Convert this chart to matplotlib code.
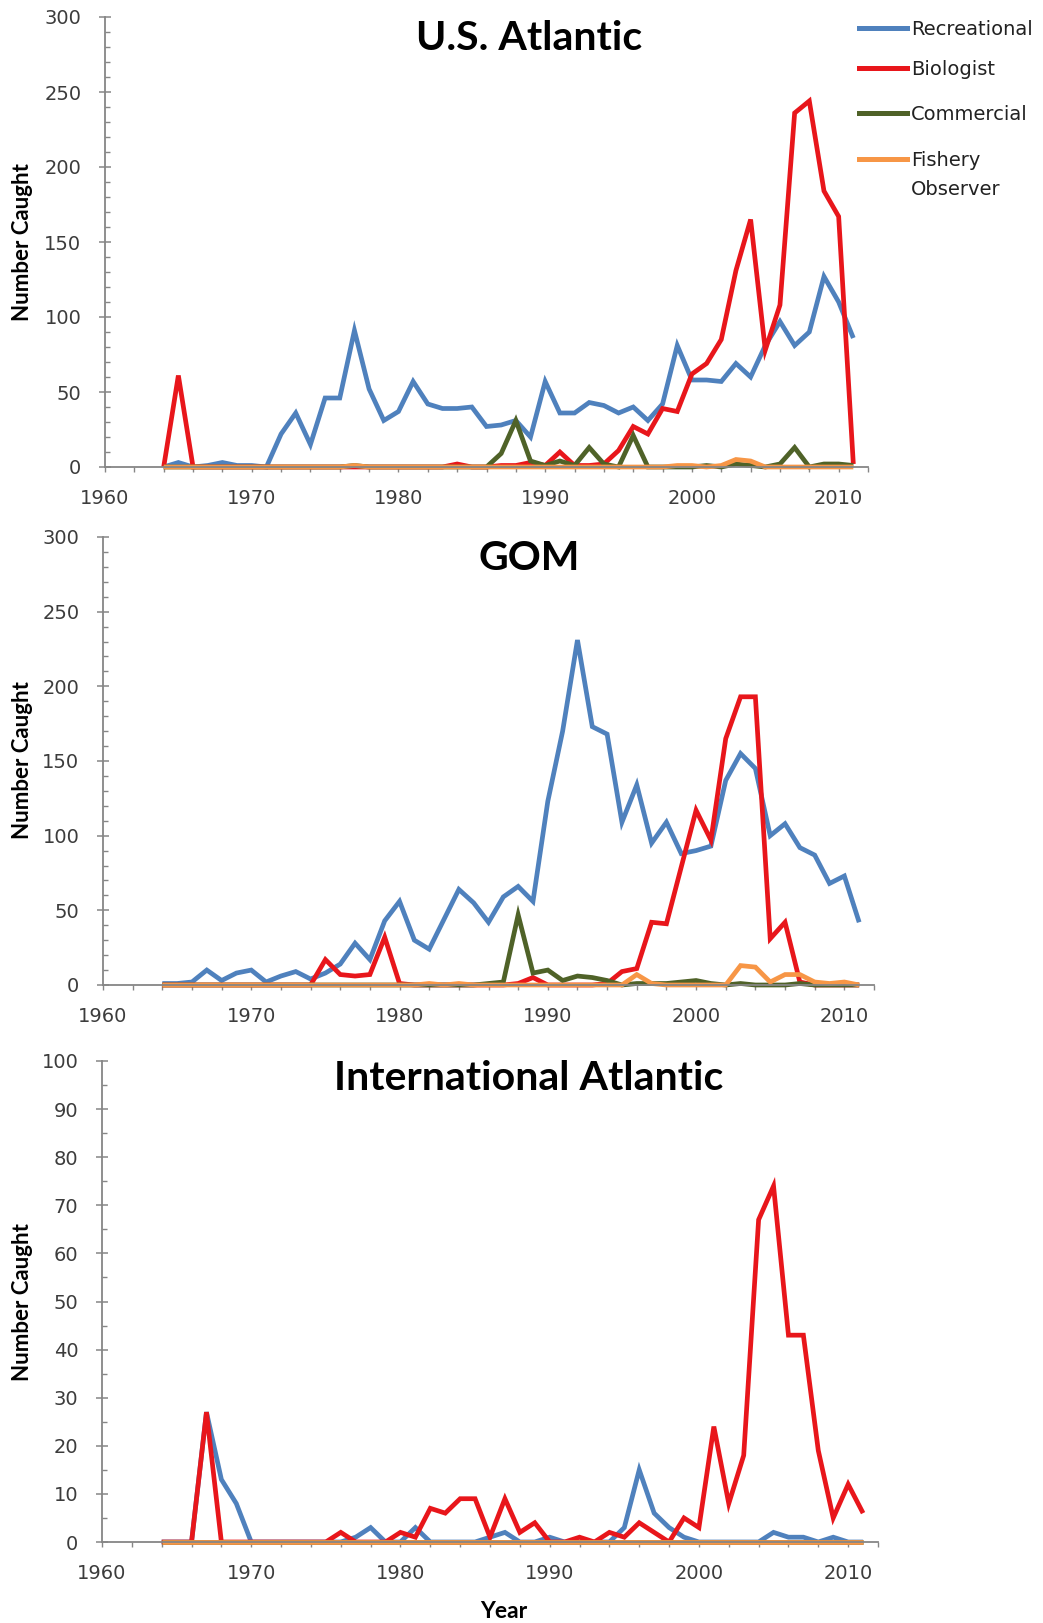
import matplotlib
matplotlib.use("Agg")
import matplotlib.pyplot as plt
from matplotlib.lines import Line2D
from matplotlib.ticker import MultipleLocator

W, H = 1043, 1623
DPI = 100

years = list(range(1964, 2012))

# ---- U.S. Atlantic ----
us_rec = [0, 3, 0, 1, 3, 1, 1, 0, 22, 36, 15, 46, 46, 91, 52, 31, 37, 57, 42, 39,
          39, 40, 27, 28, 31, 20, 57, 36, 36, 43, 41, 36, 40, 31, 42, 81, 58, 58,
          57, 69, 60, 81, 97, 81, 90, 127, 110, 86]
us_bio = [0, 61, 0, 0, 0, 0, 0, 0, 0, 0, 0, 0, 0, 0, 0, 0, 0, 0, 0, 0,
          2, 0, 0, 1, 1, 3, 1, 10, 1, 1, 2, 11, 27, 22, 39, 37, 62, 69,
          85, 131, 165, 78, 108, 236, 244, 184, 167, 2]
us_com = [0, 0, 0, 0, 0, 0, 0, 0, 0, 0, 0, 0, 0, 1, 0, 0, 0, 0, 0, 0,
          0, 0, 0, 9, 31, 4, 1, 4, 1, 13, 2, 0, 21, 0, 0, 0, 0, 1,
          0, 2, 1, 0, 2, 13, 0, 2, 2, 1]
us_obs = [0, 0, 0, 0, 0, 0, 0, 0, 0, 0, 0, 0, 0, 1, 0, 0, 0, 0, 0, 0,
          0, 0, 0, 0, 0, 0, 0, 0, 0, 0, 0, 0, 0, 0, 0, 1, 1, 0,
          1, 5, 4, 0, 0, 0, 0, 0, 0, 0]

# ---- GOM ----
gom_rec = [1, 1, 2, 10, 3, 8, 10, 2, 6, 9, 4, 8, 14, 28, 17, 43, 56, 30, 24, 44,
           64, 55, 42, 59, 66, 56, 123, 170, 231, 173, 168, 109, 134, 95, 109, 88,
           90, 93, 137, 155, 145, 100, 108, 92, 87, 68, 73, 42]
gom_bio = [0, 0, 0, 0, 0, 0, 0, 0, 0, 0, 0, 17, 7, 6, 7, 32, 1, 0, 0, 0,
           0, 0, 0, 0, 1, 5, 0, 0, 0, 0, 1, 9, 11, 42, 41, 79, 117, 97,
           165, 193, 193, 31, 42, 2, 0, 0, 0, 0]
gom_com = [0, 0, 0, 0, 0, 0, 0, 0, 0, 0, 0, 0, 0, 0, 0, 0, 0, 0, 0, 0,
           0, 0, 1, 2, 47, 8, 10, 3, 6, 5, 3, 0, 1, 1, 1, 2, 3, 1,
           0, 1, 0, 0, 0, 1, 0, 0, 0, 0]
gom_obs = [0, 0, 0, 0, 0, 0, 0, 0, 0, 0, 0, 0, 0, 0, 0, 0, 0, 0, 1, 0,
           1, 0, 0, 0, 0, 0, 0, 0, 0, 0, 0, 0, 7, 1, 0, 0, 0, 0,
           0, 13, 12, 2, 7, 7, 2, 1, 2, 0]

# ---- International Atlantic ----
int_rec = [0, 0, 0, 27, 13, 8, 0, 0, 0, 0, 0, 0, 0, 1, 3, 0, 0, 3, 0, 0,
           0, 0, 1, 2, 0, 0, 1, 0, 0, 0, 0, 3, 15, 6, 3, 1, 0, 0,
           0, 0, 0, 2, 1, 1, 0, 1, 0, 0]
int_bio = [0, 0, 0, 27, 0, 0, 0, 0, 0, 0, 0, 0, 2, 0, 0, 0, 2, 1, 7, 6,
           9, 9, 1, 9, 2, 4, 0, 0, 1, 0, 2, 1, 4, 2, 0, 5, 3, 24,
           8, 18, 67, 74, 43, 43, 19, 5, 12, 6]
int_com = [0] * 48
int_obs = [0] * 48

series_names = ["Recreational", "Biologist", "Commercial", "Fishery\nObserver"]
series_colors = ["#4F81BD", "#E8161B", "#4F6228", "#F79646"]

panels = [
    dict(title="U.S. Atlantic", data=[us_rec, us_bio, us_com, us_obs],
         ymax=300, major=50, minor=10,
         box=(105, 17, 868, 467), title_xy=(529, 39), ylab_y=242),
    dict(title="GOM", data=[gom_rec, gom_bio, gom_com, gom_obs],
         ymax=300, major=50, minor=10,
         box=(103, 537, 874, 985), title_xy=(529, 559), ylab_y=760),
    dict(title="International Atlantic", data=[int_rec, int_bio, int_com, int_obs],
         ymax=100, major=10, minor=5,
         box=(102, 1061, 878, 1542), title_xy=(529, 1078), ylab_y=1302),
]

AXIS_GRAY = "#868686"
TEXT_GRAY = "#3c3c3c"


def fx(x):
    return x / W


def fy(y):
    return 1 - y / H


fig = plt.figure(figsize=(W / DPI, H / DPI), dpi=DPI)
fig.patch.set_facecolor("white")

for p in panels:
    x0, y0, x1, y1 = p["box"]
    ax = fig.add_axes([fx(x0), fy(y1), (x1 - x0) / W, (y1 - y0) / H])
    for vals, color in zip(p["data"], series_colors):
        ax.plot(years, vals, color=color, lw=3.4, solid_joinstyle="miter",
                solid_capstyle="butt", clip_on=False)
    ax.set_xlim(1960, 2012)
    ax.set_ylim(0, p["ymax"])
    ax.xaxis.set_major_locator(MultipleLocator(10))
    ax.xaxis.set_minor_locator(MultipleLocator(2))
    ax.yaxis.set_major_locator(MultipleLocator(p["major"]))
    ax.yaxis.set_minor_locator(MultipleLocator(p["minor"]))
    for side in ("top", "right"):
        ax.spines[side].set_visible(False)
    for side in ("left", "bottom"):
        ax.spines[side].set_color(AXIS_GRAY)
        ax.spines[side].set_linewidth(1.3)
    ax.tick_params(axis="y", which="major", direction="inout", length=8,
                   width=1.1, color=AXIS_GRAY, labelsize=14,
                   labelcolor=TEXT_GRAY, pad=13)
    ax.tick_params(axis="y", which="minor", direction="in", length=3.5,
                   width=1.0, color=AXIS_GRAY)
    ax.tick_params(axis="x", which="both", direction="out", length=3.8,
                   width=1.0, color=AXIS_GRAY, labelsize=14,
                   labelcolor=TEXT_GRAY, pad=12)
    ax.set_facecolor("none")

    tx, ty = p["title_xy"]
    fig.text(fx(tx), fy(ty), p["title"], ha="center", va="center",
             fontsize=29.5, fontweight="bold", family="Lato", color="black")
    fig.text(fx(23), fy(p["ylab_y"]), "Number Caught", rotation=90,
             ha="center", va="center", fontsize=16, fontweight="bold",
             family="Lato", color="black")

fig.text(fx(504), fy(1611), "Year", ha="center", va="center",
         fontsize=16.5, fontweight="bold", family="Lato", color="black")

# Legend for the series, drawn beside the top panel
legend_rows = [28, 68, 113, 159]
for name, color, ry in zip(series_names, series_colors, legend_rows):
    fig.add_artist(Line2D([fx(859), fx(907)], [fy(ry), fy(ry)],
                          transform=fig.transFigure, color=color, lw=3.6))
    n_extra = name.count("\n")
    fig.text(fx(911), fy(ry + 7 + 29 * n_extra), name, ha="left",
             va="baseline", fontsize=14, color="#222222", linespacing=1.67)

fig.savefig("out.png", dpi=DPI, facecolor="white")
